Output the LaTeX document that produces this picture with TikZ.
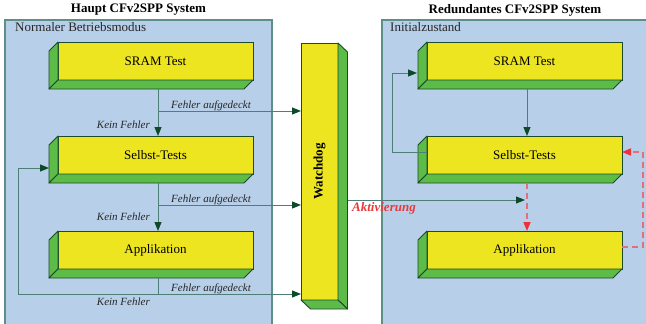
\documentclass[tikz,border=0pt]{standalone}
\usepackage{fontspec}
\setmainfont{Liberation Serif}
\usetikzlibrary{arrows.meta}
\definecolor{panelfill}{HTML}{B8CFEA}
\definecolor{panelline}{HTML}{5E8E8A}
\definecolor{boxyellow}{HTML}{EDE51F}
\definecolor{boxgreen}{HTML}{5DBB47}
\definecolor{boxline}{HTML}{1C4A2C}
\definecolor{conline}{HTML}{4E7E78}
\definecolor{headgreen}{HTML}{0E4A2A}
\definecolor{dashred}{HTML}{E46E7C}
\definecolor{headred}{HTML}{EE3038}
\definecolor{actred}{HTML}{E83A3A}
\newcommand\mydepthL[1]{%
  \path[face] (#1.north west) -- ++(-9,9) -- ([shift={(-9,9)}]#1.south west) -- (#1.south west) -- cycle;
  \path[face] (#1.south west) -- ++(-9,9) -- ([shift={(-9,9)}]#1.south east) -- (#1.south east) -- cycle;}
\begin{document}
\begin{tikzpicture}[x=1pt,y=-1pt,
  panel/.style={fill=panelfill},
  panelborder/.style={draw=panelline,line width=1.2pt},
  box/.style={draw=boxline,fill=boxyellow,line width=0.9pt,minimum width=195pt,minimum height=38pt,inner sep=0pt,outer sep=0pt,font=\fontsize{13}{15}\selectfont},
  face/.style={draw=boxline,fill=boxgreen,line width=0.9pt,line join=round},
  line/.style={draw=conline,line width=1pt},
  arr/.style={line,-{Triangle[length=9pt,width=7pt,color=headgreen]}},
  darr/.style={draw=dashred,line width=1.6pt,dash pattern=on 6pt off 4pt,-{Triangle[length=9pt,width=7pt,color=headred]}},
  lbl/.style={font=\fontsize{11}{13}\selectfont\itshape,text=black!85,inner sep=0pt},
  title/.style={font=\fontsize{13}{15}\selectfont\bfseries,inner sep=0pt},
  ptitle/.style={font=\fontsize{13}{15}\selectfont,text=black!85,inner sep=0pt},
]
\useasboundingbox (0,0) rectangle (646,324);
% panels
\fill[panel] (5,20) rectangle (272,330);
\draw[panelborder] (5,330) -- (5,20) -- (272,20) -- (272,330);
\fill[panel] (382,20) rectangle (652,330);
\draw[panelborder] (382,330) -- (382,20) -- (652,20);
\node[title] (t1) at (138.5,10) {Haupt CFv2SPP System};
\node[title] (t2) at (515,10) {Redundantes CFv2SPP System};
\node[ptitle,anchor=base west] (p1) at (15,31) {Normaler Betriebsmodus};
\node[ptitle,anchor=base west] (p2) at (390,31) {Initialzustand};
% boxes left
\node[box] (sramL) at (155.5,61) {SRAM Test};
\node[box] (selL) at (155.5,155) {Selbst-Tests};
\node[box] (appL) at (155.5,250) {Applikation};
\mydepthL{sramL}\mydepthL{selL}\mydepthL{appL}
% boxes right
\node[box] (sramR) at (524.5,61) {SRAM Test};
\node[box] (selR) at (524.5,155) {Selbst-Tests};
\node[box] (appR) at (524.5,250) {Applikation};
\mydepthL{sramR}\mydepthL{selR}\mydepthL{appR}
% watchdog
\node[box,minimum width=37pt,minimum height=257pt,
  label={[rotate=90,font=\fontsize{13}{15}\selectfont\bfseries]center:Watchdog}] (wd) at (319.5,171.5) {};
\path[face] (wd.north east) -- ++(9.5,9) -- ([shift={(9.5,9)}]wd.south east) -- (wd.south east) -- cycle;
\path[face] (wd.south west) -- ++(9.5,9) -- ([shift={(9.5,9)}]wd.south east) -- (wd.south east) -- cycle;
% left connectors
\coordinate (b1) at (158,111);
\coordinate (b2) at (158,205);
\coordinate (b3) at (158,294);
\coordinate (lc) at (18,168);
\coordinate (selLface) at (49,168);
\draw[arr] ([shift={(2.5,9)}]sramL.south) -- ([xshift=2.5pt]selL.north);
\draw[arr] (b1) -- (b1 -| wd.west);
\draw[arr] ([shift={(2.5,9)}]selL.south) -- ([xshift=2.5pt]appL.north);
\draw[arr] (b2) -- (b2 -| wd.west);
\draw[line] ([shift={(2.5,9)}]appL.south) -- (b3);
\draw[arr] (b3) -- (b3 -| wd.west);
\draw[arr] (b3) -- (b3 -| lc) -- (lc) -- (selLface);
\node[lbl,anchor=base west] (f1) at (171,108.5) {Fehler aufgedeckt};
\node[lbl,anchor=base west] (f2) at (171,202.5) {Fehler aufgedeckt};
\node[lbl,anchor=base west] (f3) at (171,291.5) {Fehler aufgedeckt};
\node[lbl,anchor=base east] (k1) at (150,128) {Kein Fehler};
\node[lbl,anchor=base east] (k2) at (150,220) {Kein Fehler};
\node[lbl,anchor=base east] (k3) at (150,305.5) {Kein Fehler};
% right connectors
\coordinate (rl1) at (392,152);
\coordinate (rl2) at (392,73);
\coordinate (sramRface) at (417,73);
\draw[arr] ([shift={(2.5,9)}]sramR.south) -- ([xshift=2.5pt]selR.north);
\draw[arr] ([yshift=3pt]selR.west) -- (rl1) -- (rl2) -- (sramRface);
\draw[darr] ([shift={(2.5,9)}]selR.south) -- ([xshift=2.5pt]appR.north);
\coordinate (rd1) at (643,247);
\coordinate (rd2) at (643,152);
\draw[darr] (appR.east |- rd1) -- (rd1) -- (rd2) -- (selR.east |- rd2);
% activation
\coordinate (actstart) at (348,200);
\coordinate (actend) at (525,200);
\draw[arr] (actstart) -- (actend);
\node[font=\fontsize{13}{15}\selectfont\bfseries\itshape,text=actred,inner sep=0pt,anchor=base west] (act) at (352,211) {Aktivierung};
\end{tikzpicture}
\end{document}
